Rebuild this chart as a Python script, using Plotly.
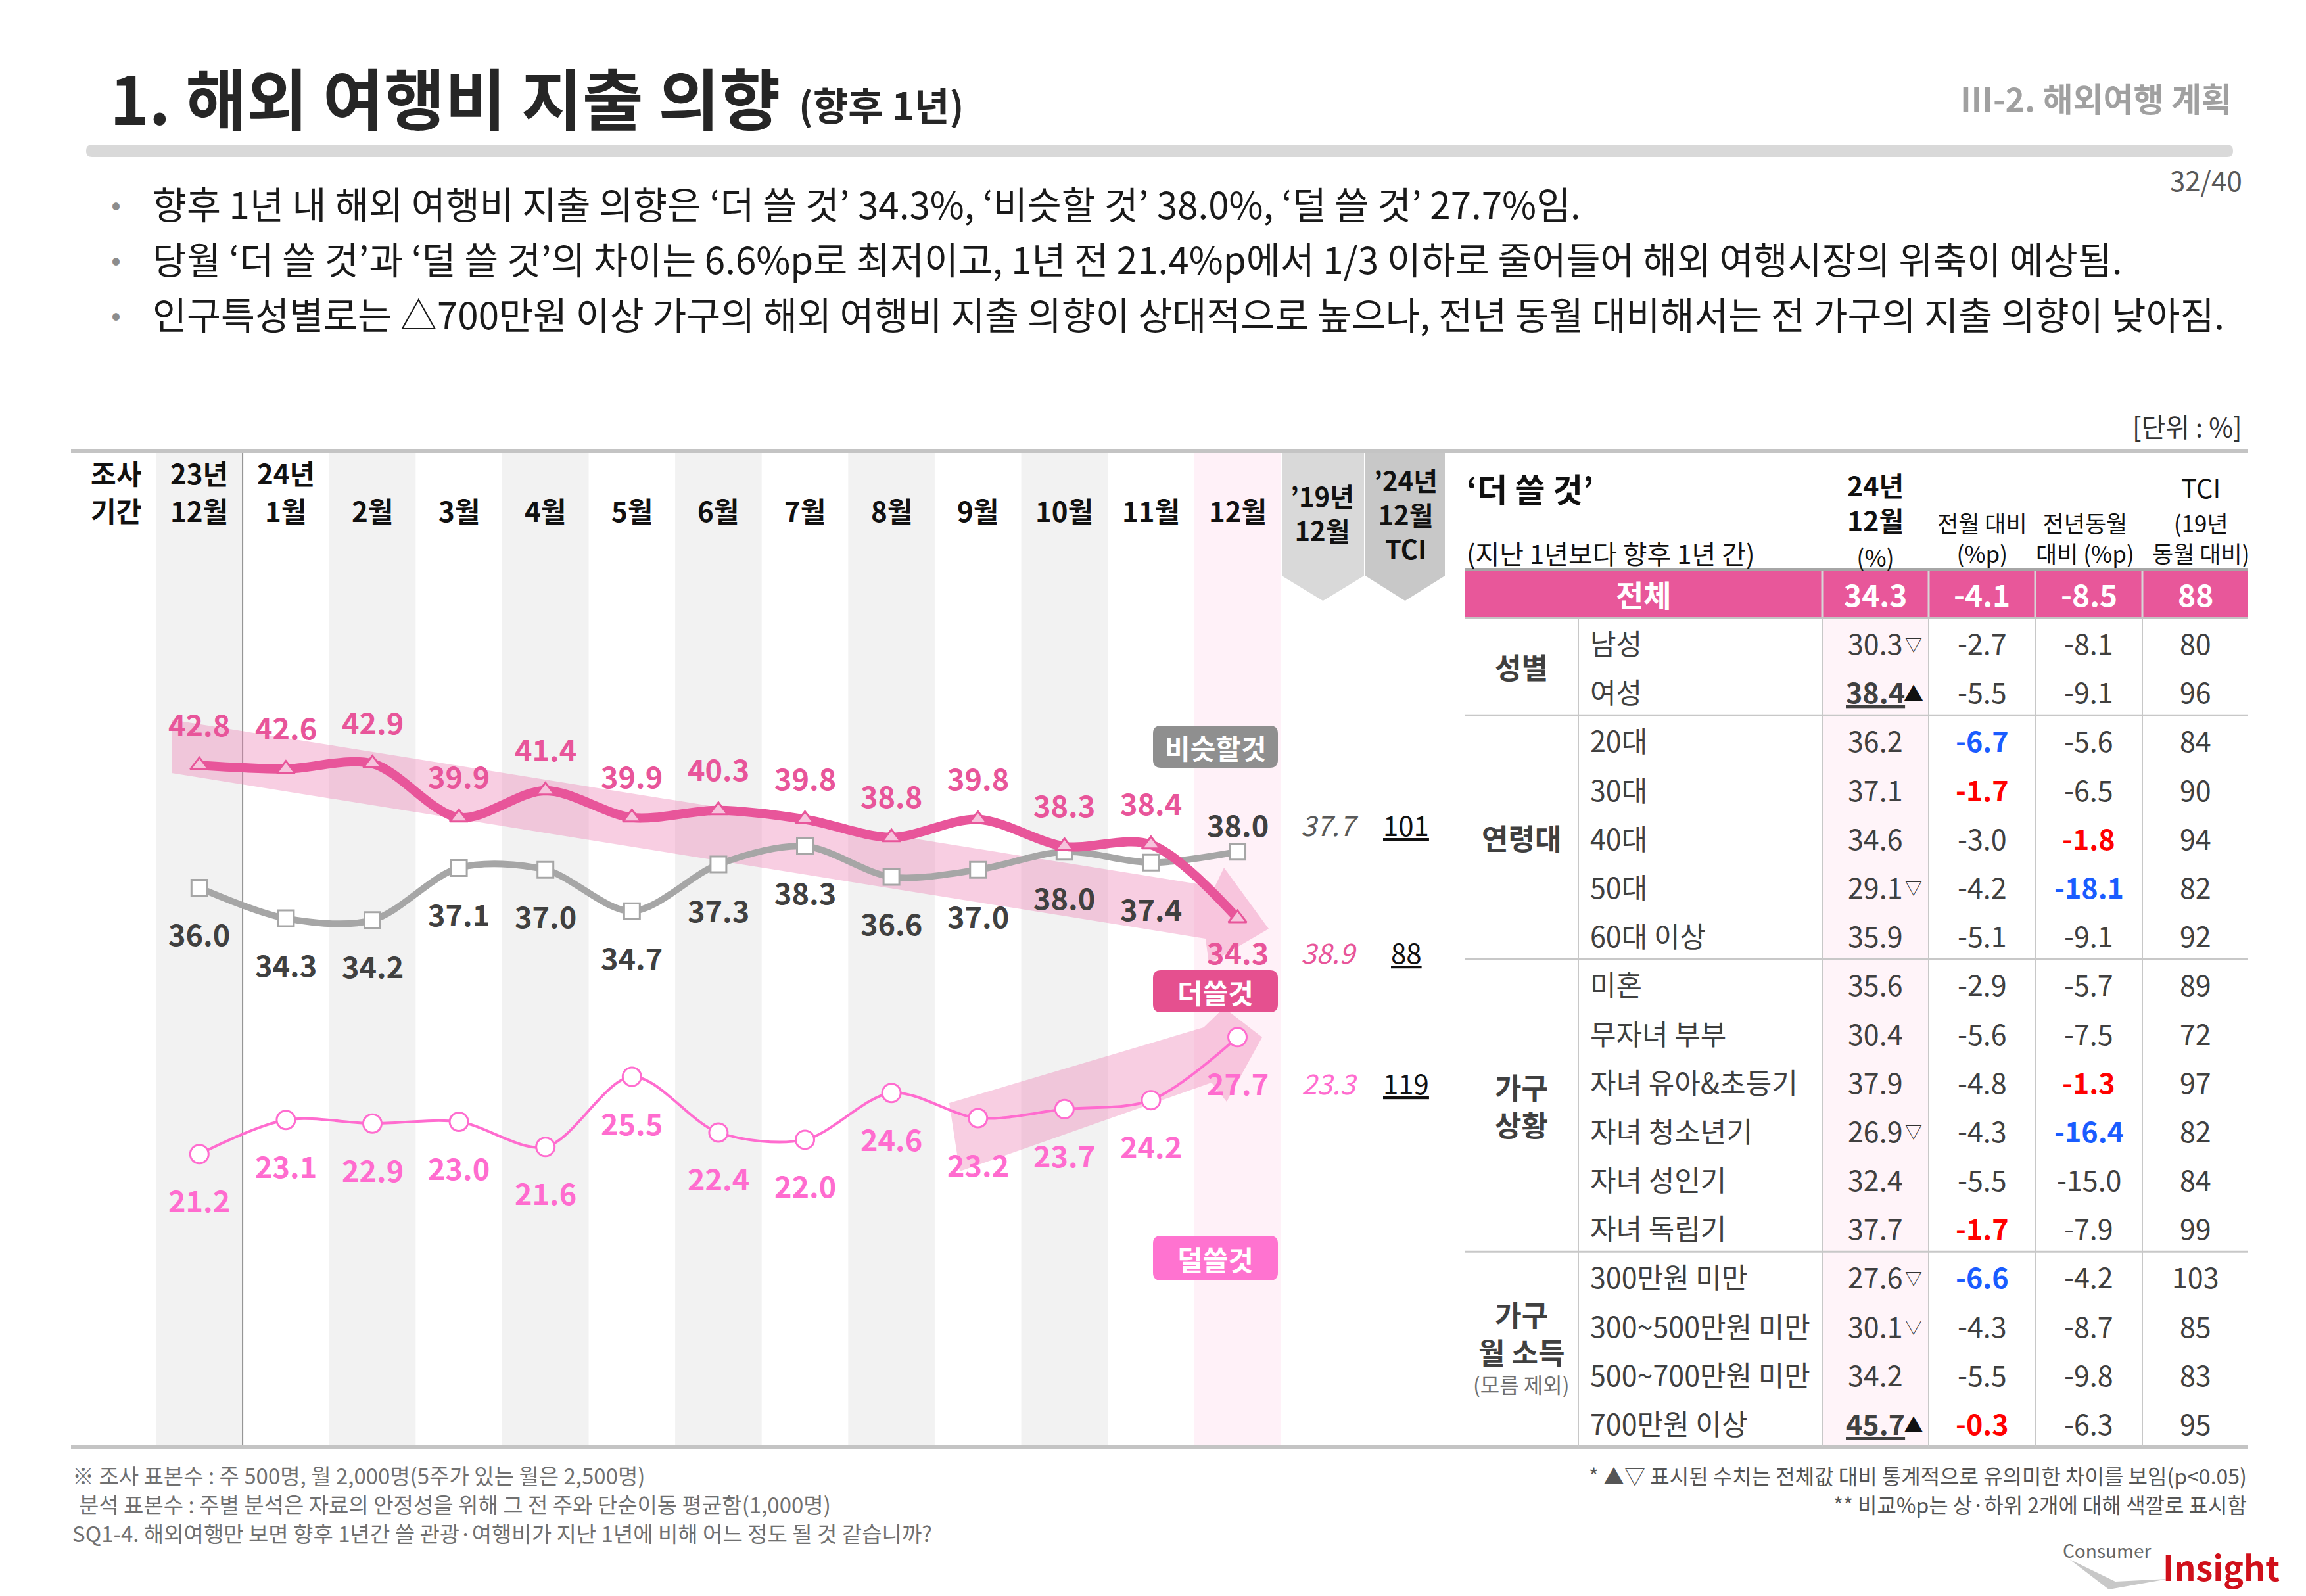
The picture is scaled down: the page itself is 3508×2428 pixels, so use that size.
import plotly.graph_objects as go

W, H = 3508, 2428
FONT = "Noto Sans CJK KR"

# ---------------- data ----------------
month_top = ["23년", "24년", "", "", "", "", "", "", "", "", "", "", ""]
month_bottom = ["12월", "1월", "2월", "3월", "4월", "5월", "6월", "7월", "8월", "9월", "10월", "11월", "12월"]
more = [42.8, 42.6, 42.9, 39.9, 41.4, 39.9, 40.3, 39.8, 38.8, 39.8, 38.3, 38.4, 34.3]       # 더 쓸 것
similar = [36.0, 34.3, 34.2, 37.1, 37.0, 34.7, 37.3, 38.3, 36.6, 37.0, 38.0, 37.4, 38.0]    # 비슷할 것
less = [21.2, 23.1, 22.9, 23.0, 21.6, 25.5, 22.4, 22.0, 24.6, 23.2, 23.7, 24.2, 27.7]       # 덜 쓸 것
ref19 = {"similar": 37.7, "more": 38.9, "less": 23.3}   # '19년 12월
tci = {"similar": 101, "more": 88, "less": 119}         # '24년 12월 TCI

total_row = ["전체", "34.3", "-4.1", "-8.5", "88"]
groups = ["성별", "연령대", "가구<br>상황", "가구<br>월 소득"]
group_sizes = [2, 5, 6, 4]
row_labels = ["남성", "여성", "20대", "30대", "40대", "50대", "60대 이상", "미혼", "무자녀 부부",
              "자녀 유아&amp;초등기", "자녀 청소년기", "자녀 성인기", "자녀 독립기",
              "300만원 미만", "300~500만원 미만", "500~700만원 미만", "700만원 이상"]
val_dec = [30.3, 38.4, 36.2, 37.1, 34.6, 29.1, 35.9, 35.6, 30.4, 37.9, 26.9, 32.4, 37.7, 27.6, 30.1, 34.2, 45.7]
sig = ["▽", "▲", "", "", "", "▽", "", "", "", "", "▽", "", "", "▽", "▽", "", "▲"]
mom = [-2.7, -5.5, -6.7, -1.7, -3.0, -4.2, -5.1, -2.9, -5.6, -4.8, -4.3, -5.5, -1.7, -6.6, -4.3, -5.5, -0.3]
yoy = [-8.1, -9.1, -5.6, -6.5, -1.8, -18.1, -9.1, -5.7, -7.5, -1.3, -16.4, -15.0, -7.9, -4.2, -8.7, -9.8, -6.3]
tci_rows = [80, 96, 84, 90, 94, 82, 92, 89, 72, 97, 82, 84, 99, 103, 85, 83, 95]

# ---------------- helpers ----------------
def px(x):
    return x / W

def py(y):
    return 1 - y / H

def P(x, y):
    return f"{px(x):.6f},{py(y):.6f}"

shapes = []
ann = []

def text(x, y, s, size, color="#222", xanchor="center", yanchor="middle", xref="paper", yref="paper", **kw):
    ann.append(dict(x=px(x) if xref == "paper" else x, y=py(y) if yref == "paper" else y,
                    xref=xref, yref=yref, text=s, showarrow=False, xanchor=xanchor, yanchor=yanchor,
                    font=dict(family=FONT, size=size, color=color), **kw))

def rect(x0, y0, x1, y1, color, layer="below"):
    shapes.append(dict(type="rect", xref="paper", yref="paper", x0=px(x0), x1=px(x1), y0=py(y1), y1=py(y0),
                       fillcolor=color, line=dict(width=0), layer=layer))

def line(x0, y0, x1, y1, color, width, layer="above"):
    shapes.append(dict(type="line", xref="paper", yref="paper", x0=px(x0), x1=px(x1), y0=py(y0), y1=py(y1),
                       line=dict(color=color, width=width), layer=layer))

def poly(pts, color, layer="below"):
    path = "M " + " L ".join(P(x, y) for x, y in pts) + " Z"
    shapes.append(dict(type="path", xref="paper", yref="paper", path=path, fillcolor=color,
                       line=dict(width=0), layer=layer))

def rrect(x0, y0, x1, y1, r, color, layer="above"):
    path = (f"M {P(x0+r,y0)} L {P(x1-r,y0)} Q {P(x1,y0)} {P(x1,y0+r)} L {P(x1,y1-r)} "
            f"Q {P(x1,y1)} {P(x1-r,y1)} L {P(x0+r,y1)} Q {P(x0,y1)} {P(x0,y1-r)} "
            f"L {P(x0,y0+r)} Q {P(x0,y0)} {P(x0+r,y0)} Z")
    shapes.append(dict(type="path", xref="paper", yref="paper", path=path, fillcolor=color,
                       line=dict(width=0), layer=layer))

PINK = "#e8559a"
LPINK = "#ff6ccf"
GRAY = "#a6a6a6"

# ---------------- title area ----------------
text(157, 138, "<b>1. 해외 여행비 지출 의향</b>", 101, "#262626", xanchor="left")
text(1205, 150, "<b>(향후 1년)</b>", 58, "#262626", xanchor="left")
text(3389, 140, "<b>Ⅲ-2. 해외여행 계획</b>", 50, "#a0a0a0", xanchor="right")
rrect(123, 212, 3389, 231, 9, "#d9d9d9")
text(3405, 264, "32/40", 42, "#595959", xanchor="right")

bullets = [
    "향후 1년 내 해외 여행비 지출 의향은 ‘더 쓸 것’ 34.3%, ‘비슷할 것’ 38.0%, ‘덜 쓸 것’ 27.7%임.",
    "당월 ‘더 쓸 것’과 ‘덜 쓸 것’의 차이는 6.6%p로 최저이고, 1년 전 21.4%p에서 1/3 이하로 줄어들어 해외 여행시장의 위축이 예상됨.",
    "인구특성별로는 △700만원 이상 가구의 해외 여행비 지출 의향이 상대적으로 높으나, 전년 동월 대비해서는 전 가구의 지출 의향이 낮아짐.",
]
for k, b in enumerate(bullets):
    yy = 300 + 84 * k
    text(168, yy, "•", 44, "#8c8c8c")
    text(222, yy, b, 56.5, "#1a1a1a", xanchor="left")

text(3405, 640, "[단위 : %]", 40, "#333", xanchor="right")

# ---------------- chart panel ----------------
TOP, BOT = 680, 2193
for i in range(len(month_bottom)):
    if i == len(month_bottom) - 1:
        col = "#fff1f8"
    elif i % 2 == 0:
        col = "#f2f2f2"
    else:
        col = None
    if col:
        shapes.append(dict(type="rect", xref="x", yref="paper", x0=i - 0.5, x1=i + 0.5,
                           y0=py(BOT), y1=py(TOP), fillcolor=col, line=dict(width=0), layer="below"))
shapes.append(dict(type="line", xref="x", yref="paper", x0=0.5, x1=0.5, y0=py(BOT), y1=py(TOP),
                   line=dict(color="#8c8c8c", width=2), layer="below"))

# '19 / TCI pentagon headers
poly([(1942, TOP), (2067, TOP), (2067, 868), (2004.5, 906), (1942, 868)], "#d9d9d9")
poly([(2069, TOP), (2190, TOP), (2190, 868), (2129.5, 906), (2069, 868)], "#c8c8c8")

# translucent trend arrows
poly([(253, 1087), (1840, 1341), (1854, 1312), (1922, 1405), (1831, 1458), (1826, 1420), (253, 1168)],
     "rgba(236,120,175,0.36)")
poly([(1436, 1670), (1823, 1555), (1854, 1525), (1912, 1570), (1858, 1668), (1835, 1639), (1452, 1774)],
     "rgba(236,120,175,0.36)")

# top / bottom rules
line(100, 678, 3412, 678, "#c4c4c4", 6)
line(100, 2194, 3412, 2194, "#c4c4c4", 6)

# header labels
text(168, 711, "<b>조사</b>", 42, "#111")
text(168, 767, "<b>기간</b>", 42, "#111")
for i, (t, b) in enumerate(zip(month_top, month_bottom)):
    if t:
        ann.append(dict(x=i, y=py(711), xref="x", yref="paper", text=f"<b>{t}</b>", showarrow=False,
                        xanchor="center", yanchor="middle",
                        font=dict(family=FONT, size=42, color="#111")))
    ann.append(dict(x=i, y=py(767), xref="x", yref="paper", text=f"<b>{b}</b>", showarrow=False,
                    xanchor="center", yanchor="middle",
                    font=dict(family=FONT, size=42, color="#111")))
text(2004, 772, "<b>’19년<br>12월</b>", 40, "#111")
text(2130, 774, "<b>’24년<br>12월<br>TCI</b>", 40, "#111")

x_idx = list(range(len(month_bottom)))

# lines
fig = go.Figure()
fig.add_trace(go.Scatter(x=x_idx, y=similar, mode="lines+markers",
                         line=dict(color=GRAY, width=10, shape="spline", smoothing=0.9),
                         marker=dict(symbol="square", size=24, color="white", line=dict(color=GRAY, width=3))))
fig.add_trace(go.Scatter(x=x_idx, y=more, mode="lines+markers",
                         line=dict(color=PINK, width=14, shape="spline", smoothing=0.9),
                         marker=dict(symbol="triangle-up", size=24, color="#f6c3dc", line=dict(color=PINK, width=3))))
fig.add_trace(go.Scatter(x=x_idx, y=less, mode="lines+markers",
                         line=dict(color=LPINK, width=4, shape="spline", smoothing=0.9),
                         marker=dict(symbol="circle", size=28, color="white", line=dict(color=LPINK, width=3))))

def dlabel(i, v, shift, color):
    ann.append(dict(x=i, y=v, xref="x", yref="y", text=f"<b>{v:.1f}</b>", showarrow=False, yshift=shift,
                    xanchor="center", yanchor="middle",
                    font=dict(family=FONT, size=45, color=color)))

n = len(x_idx)
for i in range(n):
    dlabel(i, more[i], 64 if i < n - 1 else -50, PINK)
    dlabel(i, similar[i], -69 if i < n - 1 else 42, "#404040")
    dlabel(i, less[i], -69, LPINK)

# '19 and TCI values aligned with the last labels
for key, last, shift, color in [("similar", similar[-1], 42, "#595959"),
                                ("more", more[-1], -50, PINK),
                                ("less", less[-1], -69, LPINK)]:
    ann.append(dict(x=13.06, y=last, xref="x", yref="y", text=f"<i>{ref19[key]:.1f}</i>", showarrow=False,
                    yshift=shift, xanchor="center", yanchor="middle",
                    font=dict(family=FONT, size=42, color=color)))
    ann.append(dict(x=13.95, y=last, xref="x", yref="y", text=f"<u>{tci[key]}</u>", showarrow=False,
                    yshift=shift, xanchor="center", yanchor="middle",
                    font=dict(family=FONT, size=42, color="#111")))

# series name boxes
for (y0, y1, s, col) in [(1096, 1160, "비슷할것", "#8f8f8f"), (1468, 1532, "더쓸것", "#e5508f"),
                         (1872, 1940, "덜쓸것", "#ff73d0")]:
    rrect(1746, y0, 1936, y1, 12, col)
    text(1841, (y0 + y1) / 2, f"<b>{s}</b>", 42, "white")

# ---------------- table ----------------
TL, TG, TV, TM, TY, TT, TR = 2220, 2393, 2764, 2926, 3088, 3251, 3412
colc = [(TV + TM) / 2, (TM + TY) / 2, (TY + TT) / 2, (TT + TR) / 2]
text(2221, 734, "<b>‘더 쓸 것’</b>", 50, "#111", xanchor="left")
text(2221, 833, "(지난 1년보다 향후 1년 간)", 40, "#111", xanchor="left")
SP = "<span style='font-size:36px'>"
text(colc[0], 782, f"<b>24년</b><br><b>12월</b><br>{SP}(%)</span>", 41, "#111")
text(colc[1], 810, "전월 대비<br>(%p)", 35, "#111")
text(colc[2] - 6, 810, "전년동월<br>대비 (%p)", 35, "#111")
text(colc[3] + 8, 733, "TCI", 40, "#111")
text(colc[3] + 8, 810, "(19년<br>동월 대비)", 35, "#111")

RT, RB = 858, 932
rect(TL, RT, TR, RB, "#e8579a", layer="above")
line(TL, RT, TR, RT, "#a6a6a6", 4)
line(TL, RB, TR, RB, "#c4c4c4", 4)
for xv in [TV, TM, TY, TT]:
    line(xv, RT + 2, xv, RB - 2, "#d6d6d6", 3)
text((TL + TV) / 2, 895, f"<b>{total_row[0]}</b>", 46, "white")
for c, s in zip(colc, total_row[1:]):
    text(c, 895, f"<b>{s}</b>", 46, "white")

RH = (BOT - RB) / len(row_labels)
rect(TV, RB, TM, BOT, "#fff4f9")
for xv in [TG, TV, TM, TY, TT]:
    line(xv, RB, xv, BOT, "#c8c8c8", 2)
acc = 0
for g, sz in zip(groups, group_sizes):
    if acc > 0:
        line(TL, RB + acc * RH, TR, RB + acc * RH, "#c8c8c8", 3)
    cy = RB + (acc + sz / 2) * RH
    if g.startswith("가구<br>월"):
        text((TL + TG) / 2, cy - 25, f"<b>{g}</b>", 44, "#404040")
        text((TL + TG) / 2, cy + 52, "(모름 제외)", 32, "#707070")
    else:
        text((TL + TG) / 2, cy, f"<b>{g}</b>", 44, "#404040")
    acc += sz

def rank_color(vals, v):
    s = sorted(set(vals))
    if v >= s[-2]:
        return "#ff0000", True
    if v <= s[1]:
        return "#1a5cff", True
    return "#404040", False

for r, lab in enumerate(row_labels):
    cy = RB + (r + 0.5) * RH
    text(2409, cy, lab, 43, "#404040", xanchor="left")
    vs = f"{val_dec[r]:.1f}"
    if sig[r] == "▲":
        vs = f"<b><u>{vs}</u></b>"
    text(colc[0], cy, vs, 43, "#404040")
    if sig[r]:
        text(2903, cy + 2, sig[r], 26 if sig[r] == "▽" else 30, "#333" if sig[r] == "▽" else "#111")
    for c, arr in [(colc[1], mom), (colc[2], yoy)]:
        colr, b = rank_color(arr, arr[r])
        s = f"{arr[r]:.1f}"
        text(c, cy, f"<b>{s}</b>" if b else s, 43, colr)
    text(colc[3], cy, str(tci_rows[r]), 43, "#404040")

# ---------------- footnotes ----------------
text(100, 2236, "※ 조사 표본수 : 주 500명, 월 2,000명(5주가 있는 월은 2,500명)", 33, "#707070", xanchor="left")
text(110, 2280, "분석 표본수 : 주별 분석은 자료의 안정성을 위해 그 전 주와 단순이동 평균함(1,000명)", 33, "#707070", xanchor="left")
text(100, 2324, "SQ1-4. 해외여행만 보면 향후 1년간 쓸 관광·여행비가 지난 1년에 비해 어느 정도 될 것 같습니까?", 33, "#707070", xanchor="left")
text(3412, 2236, "* ▲▽ 표시된 수치는 전체값 대비 통계적으로 유의미한 차이를 보임(p&lt;0.05)", 32, "#555", xanchor="right")
text(3412, 2280, "** 비교%p는 상·하위 2개에 대해 색깔로 표시함", 32, "#555", xanchor="right")

# logo
poly([(3140, 2364), (3200, 2410), (3290, 2394), (3210, 2398)], "#c8c8c8", layer="above")
text(3128, 2350, "Consumer", 28, "#666", xanchor="left")
text(3280, 2374, "<b>Insight</b>", 52, "#d0101b", xanchor="left")

fig.update_layout(
    width=W, height=H, autosize=False,
    margin=dict(l=0, r=0, t=0, b=0),
    paper_bgcolor="white", plot_bgcolor="rgba(0,0,0,0)",
    showlegend=False,
    xaxis=dict(domain=[px(100), px(2193)], range=[-1.484, 14.42], visible=False, fixedrange=True),
    yaxis=dict(domain=[py(2193), py(678)], range=[4.94, 60.27], visible=False, fixedrange=True),
    shapes=shapes, annotations=ann,
    font=dict(family=FONT),
)
fig.write_html("out.html", config={"displayModeBar": False})
